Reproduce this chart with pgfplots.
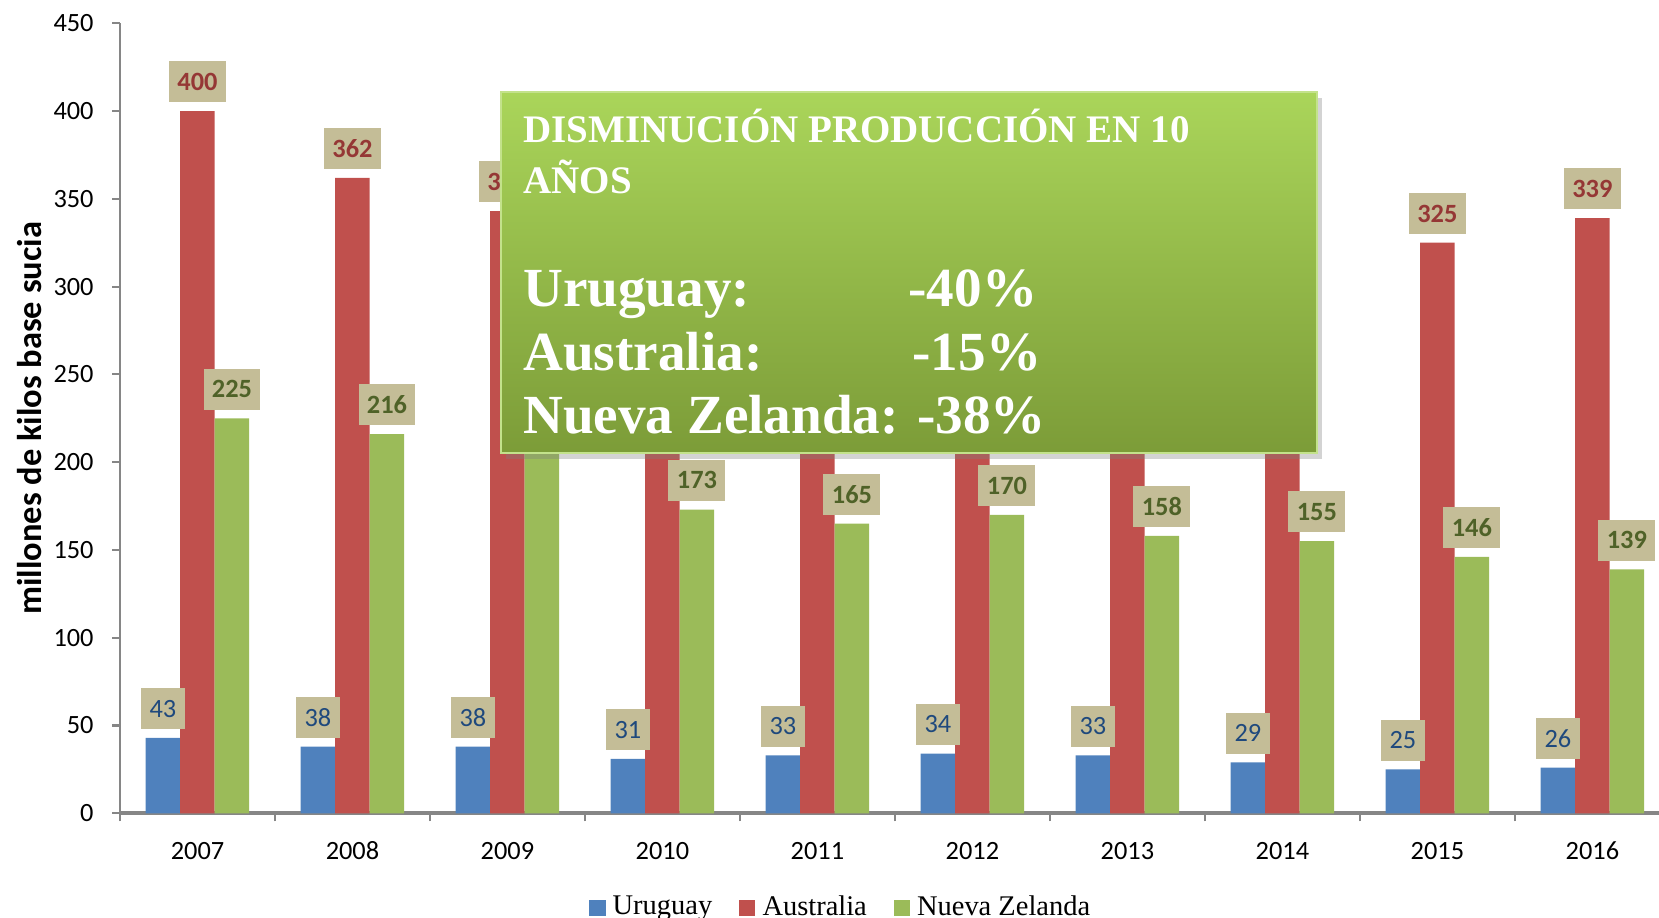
\documentclass[border=0pt]{standalone}
\usepackage{fontspec}
\setmainfont{Carlito}
\newfontfamily\serif{Liberation Serif}
\usepackage{pgfplots}
\pgfplotsset{compat=1.18}
\usetikzlibrary{shadows}
\definecolor{uru}{HTML}{4F81BD}
\definecolor{aus}{HTML}{C0504D}
\definecolor{nz}{HTML}{9BBB59}
\definecolor{lblbox}{HTML}{C4BD97}
\definecolor{uruT}{HTML}{1F497D}
\definecolor{ausT}{HTML}{953735}
\definecolor{nzT}{HTML}{4F6228}
\definecolor{boxtop}{HTML}{AAD55A}
\definecolor{boxbot}{HTML}{7C9C38}
\definecolor{axgray}{HTML}{868686}
\begin{document}
\begin{tikzpicture}
\begin{axis}[
  scale only axis, width=153.9mm, height=79.0mm,
  ybar=0pt, bar width=3.45mm,
  xmin=-0.5, xmax=9.43, ymin=0, ymax=450,
  ytick={0,50,...,450},
  xtick={0,...,9},
  xticklabels={2007,2008,2009,2010,2011,2012,2013,2014,2015,2016},
  minor xtick={-0.5,0.5,...,8.5},
  axis x line=bottom, axis y line=left,
  x axis line style={-, draw=axgray, line width=1.1pt},
  y axis line style={-, draw=axgray, line width=0.7pt},
  tick align=outside,
  major x tick style={draw=none},
  minor x tick style={draw=axgray, line width=0.6pt},
  minor tick length=0.8mm,
  y tick style={draw=axgray, line width=0.6pt},
  major tick length=0.8mm,
  tick label style={font=\fontsize{7.5}{9}\selectfont},
  /pgf/number format/assume math mode=true,
  yticklabel style={xshift=-0.6mm},
  xticklabel style={anchor=base, yshift=-3.8mm},
  ylabel={\fontsize{9.8}{11}\selectfont\bfseries millones de kilos base sucia},
  ylabel style={at={(axis description cs:-0.0587,0.5)}, anchor=center, rotate=0},
  legend style={at={(0.470,-0.12)}, anchor=center, draw=none, legend columns=3,
    font=\serif\fontsize{8.1}{9}\selectfont, /tikz/every even column/.append style={column sep=2.0mm},
    inner sep=0pt},
  legend image code/.code={\fill[#1] (0pt,-2.3pt) rectangle (4.6pt,2.3pt);},
  legend cell align=left,
  clip=true,
]
\addplot+[fill=uru, draw=none, point meta=explicit symbolic,
  nodes near coords,
  every node near coord/.append style={fill=lblbox, text=uruT, anchor=south, yshift=0.8mm,
    font=\fontsize{7.5}{9}\selectfont, inner xsep=2.4pt, inner ysep=0pt, minimum height=4.1mm}]
  coordinates {(0,43) [43] (1,38) [38] (2,38) [38] (3,31) [31] (4,33) [33]
               (5,34) [34] (6,33) [33] (7,29) [29] (8,25) [25] (9,26) [26]};
\addplot+[fill=aus, draw=none, point meta=explicit symbolic,
  nodes near coords,
  every node near coord/.append style={fill=lblbox, text=ausT, anchor=south, yshift=0.8mm,
    font=\fontsize{7.5}{9}\selectfont\bfseries, inner xsep=2.4pt, inner ysep=0pt, minimum height=4.1mm}]
  coordinates {(0,400) [400] (1,362) [362] (2,343) [343] (3,340) [] (4,345) []
               (5,342) [] (6,344) [] (7,335) [] (8,325) [325] (9,339) [339]};
\addplot+[fill=nz, draw=none, point meta=explicit symbolic,
  nodes near coords,
  every node near coord/.append style={fill=lblbox, text=nzT, anchor=south, yshift=0.8mm,
    font=\fontsize{7.5}{9}\selectfont\bfseries, inner xsep=2.4pt, inner ysep=0pt, minimum height=4.1mm}]
  coordinates {(0,225) [225] (1,216) [216] (2,210) [] (3,173) [173] (4,165) [165]
               (5,170) [170] (6,158) [158] (7,155) [155] (8,146) [146] (9,139) [139]};
\legend{Uruguay, Australia, Nueva Zelanda}
\coordinate (boxBL) at (axis cs:1.961,205.3);
\coordinate (boxTR) at (axis cs:7.223,410.9);
\coordinate (t1) at (axis cs:2.098,381.9);
\coordinate (t2) at (axis cs:2.098,353);
\coordinate (t3) at (axis cs:2.098,288.5);
\coordinate (p3) at (axis cs:4.583,288.5);
\coordinate (t4) at (axis cs:2.098,252.3);
\coordinate (p4) at (axis cs:4.609,252.3);
\coordinate (t5) at (axis cs:2.098,216.2);
\end{axis}
% annotation box, drawn above the bars and their labels
\path[drop shadow={opacity=0.35, shadow xshift=0.5mm, shadow yshift=-0.6mm},
  top color=boxtop, bottom color=boxbot, draw=boxtop!70!white, line width=0.6pt]
  (boxBL) rectangle (boxTR);
\node[anchor=base west, text=white, inner sep=0pt, font=\serif\bfseries\fontsize{11.1}{13}\selectfont]
  at (t1) {DISMINUCIÓN PRODUCCIÓN EN 10};
\node[anchor=base west, text=white, inner sep=0pt, font=\serif\bfseries\fontsize{11.1}{13}\selectfont]
  at (t2) {AÑOS};
\node[anchor=base west, text=white, inner sep=0pt, font=\serif\bfseries\fontsize{15.7}{18}\selectfont]
  at (t3) {Uruguay:};
\node[anchor=base west, text=white, inner sep=0pt, font=\serif\bfseries\fontsize{15.7}{18}\selectfont]
  at (p3) {-40\%};
\node[anchor=base west, text=white, inner sep=0pt, font=\serif\bfseries\fontsize{15.7}{18}\selectfont]
  at (t4) {Australia:};
\node[anchor=base west, text=white, inner sep=0pt, font=\serif\bfseries\fontsize{15.7}{18}\selectfont]
  at (p4) {-15\%};
\node[anchor=base west, text=white, inner sep=0pt, font=\serif\bfseries\fontsize{15.7}{18}\selectfont]
  at (t5) {Nueva Zelanda: -38\%};
\pgfresetboundingbox
\path[use as bounding box] (-12.0mm,-10.47mm) rectangle (153.9mm,81.33mm);
\end{tikzpicture}
\end{document}
